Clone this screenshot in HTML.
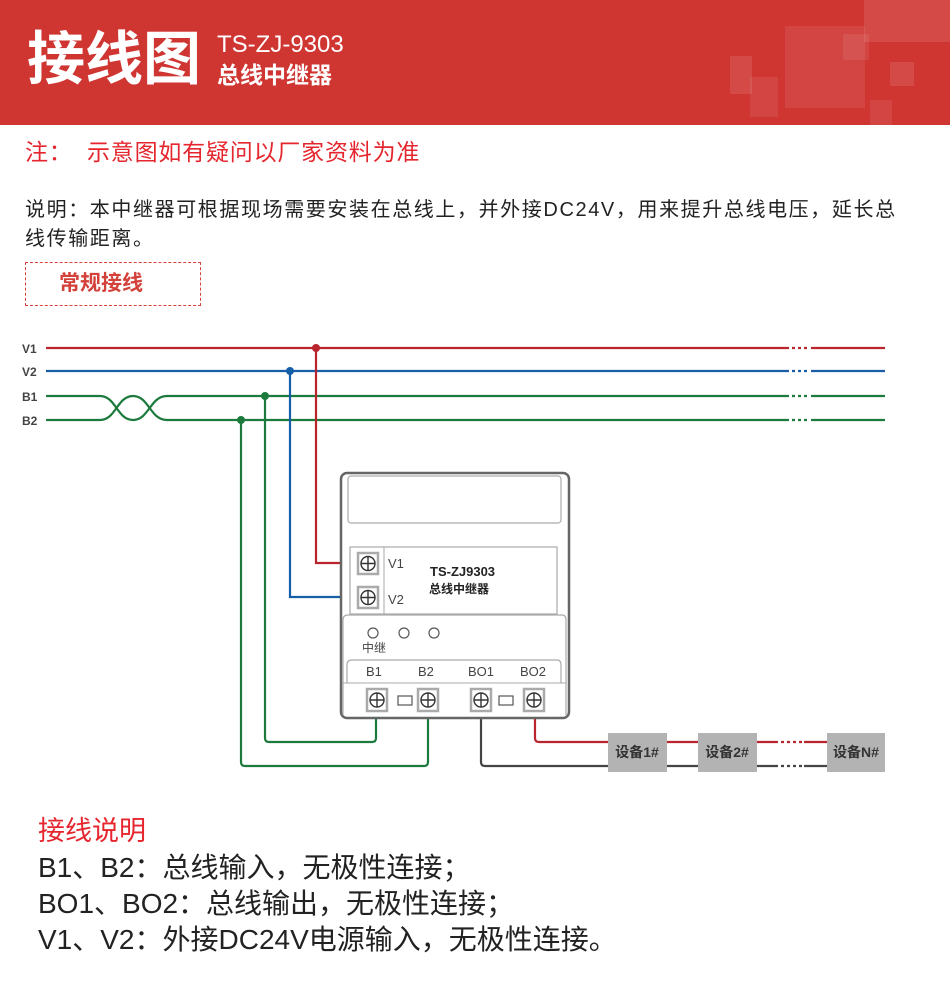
<!DOCTYPE html>
<html><head><meta charset="utf-8"><style>
body{margin:0;width:950px;height:988px;background:#fff;position:relative;overflow:hidden;font-family:"Liberation Sans","Noto Sans CJK SC",sans-serif}
.a{position:absolute;white-space:nowrap}
</style></head><body>
<div class="a" style="left:0;top:0;width:950px;height:125px;background:#cf3632;overflow:hidden">
 <div class="a" style="left:864px;top:0;width:86px;height:42px;background:rgba(255,255,255,.1)"></div>
 <div class="a" style="left:785px;top:26px;width:80px;height:82px;background:rgba(255,255,255,.08)"></div>
 <div class="a" style="left:730px;top:56px;width:22px;height:38px;background:rgba(255,255,255,.1)"></div>
 <div class="a" style="left:750px;top:77px;width:28px;height:40px;background:rgba(255,255,255,.08)"></div>
 <div class="a" style="left:890px;top:62px;width:24px;height:24px;background:rgba(255,255,255,.1)"></div>
 <div class="a" style="left:843px;top:34px;width:26px;height:26px;background:rgba(255,255,255,.08)"></div>
 <div class="a" style="left:870px;top:100px;width:22px;height:25px;background:rgba(255,255,255,.08)"></div>
</div>
<div class="a" style="left:27px;top:22px;font-size:58px;font-weight:bold;color:#fff;line-height:76px">接线图</div>
<div class="a" style="left:217px;top:31px;font-size:24px;color:#fff;line-height:28px">TS-ZJ-9303</div>
<div class="a" style="left:217px;top:61px;font-size:23px;font-weight:bold;color:#fff;line-height:28px">总线中继器</div>
<div class="a" style="left:25px;top:137px;font-size:23px;letter-spacing:0.8px;color:#e5262e;line-height:30px">注：&nbsp;&nbsp;示意图如有疑问以厂家资料为准</div>
<div class="a" style="left:25px;top:196px;font-size:20px;letter-spacing:1.6px;color:#222;line-height:29px">说明：本中继器可根据现场需要安装在总线上，并外接DC24V，用来提升总线电压，延长总<br>线传输距离。</div>
<div class="a" style="left:25px;top:262px;width:174px;height:42px;border:1px dashed #d9413a"></div>
<div class="a" style="left:59px;top:269px;font-size:21px;font-weight:bold;color:#d3423a;line-height:30px">常规接线</div>
<svg class="a" style="left:0;top:0" width="950" height="988">
<g fill="none" stroke-width="2.2">
<path d="M46 348H885" stroke="#b8252f"/>
<path d="M46 371H885" stroke="#175ea8"/>
<path d="M46 396H100C116 396 117 420 133 420C149 420 150 396 167 396H885" stroke="#1c7a3c"/>
<path d="M46 420H100C116 420 117 396 133 396C149 396 150 420 167 420H885" stroke="#1c7a3c"/>
<path d="M316 348V563H350" stroke="#b8252f"/>
<path d="M290 371V597H350" stroke="#175ea8"/>
<path d="M265 396V738Q265 742 269 742H372Q376 742 376 738V714" stroke="#1c7a3c"/>
<path d="M241 420V762Q241 766 245 766H424Q428 766 428 762V714" stroke="#1c7a3c"/>
<path d="M481 714V762Q481 766 485 766H885" stroke="#444"/>
<path d="M535 714V738Q535 742 539 742H885" stroke="#b8252f"/>
</g>
<g fill="#fff"><rect x="789" y="340" width="22" height="90"/><rect x="778" y="736" width="26" height="36"/></g>
<g stroke-width="2.2" stroke-dasharray="3 3" fill="none">
<path d="M792 348H810" stroke="#b8252f"/><path d="M792 371H810" stroke="#175ea8"/>
<path d="M792 396H810" stroke="#1c7a3c"/><path d="M792 420H810" stroke="#1c7a3c"/>
<path d="M781 742H802" stroke="#b8252f"/><path d="M781 766H802" stroke="#444"/>
</g>
<circle cx="316" cy="348" r="4" fill="#b8252f"/>
<circle cx="290" cy="371" r="4" fill="#175ea8"/>
<circle cx="265" cy="396" r="4" fill="#1c7a3c"/>
<circle cx="241" cy="420" r="4" fill="#1c7a3c"/>
<g fill="#b3b3b3"><rect x="608" y="733" width="59" height="39"/><rect x="698" y="733" width="59" height="39"/><rect x="827" y="733" width="58" height="39"/></g>
<g font-size="14" fill="#333" font-weight="bold" text-anchor="middle"><text x="637" y="757">设备1#</text><text x="727" y="757">设备2#</text><text x="856" y="757">设备N#</text></g>
<rect x="341" y="473" width="228" height="245" rx="6" fill="#fff" stroke="#666" stroke-width="2.5"/>
<rect x="348" y="476" width="213" height="47" rx="3" fill="#fff" stroke="#aaa" stroke-width="1.2"/>
<rect x="350" y="547" width="207" height="67" fill="#fff" stroke="#aaa" stroke-width="1.2"/>
<line x1="384" y1="547" x2="384" y2="614" stroke="#aaa"/>
<path d="M343 715V620Q343 615 348 615H562Q566 615 566 620V715" fill="none" stroke="#aaa" stroke-width="1.2"/>
<path d="M347 683V665Q347 660 352 660H557Q561 660 561 665V683" fill="none" stroke="#aaa" stroke-width="1.2"/>
<line x1="343" y1="683" x2="566" y2="683" stroke="#aaa"/>
<g fill="#fff" stroke="#555" stroke-width="1.2">
<circle cx="373" cy="633" r="5"/><circle cx="404" cy="633" r="5"/><circle cx="434" cy="633" r="5"/>
<rect x="398" y="696" width="14" height="9"/><rect x="499" y="696" width="14" height="9"/>
</g>
<g fill="#fff" stroke="#aaa" stroke-width="2.5">
<rect x="358" y="553" width="20" height="21"/><rect x="358" y="587" width="20" height="21"/>
<rect x="367" y="689" width="20" height="22"/><rect x="418" y="689" width="20" height="22"/>
<rect x="471" y="689" width="20" height="22"/><rect x="524" y="689" width="20" height="22"/>
</g>
<g fill="none" stroke="#333" stroke-width="1.4">
<circle cx="368" cy="563.5" r="7"/><path d="M361 563.5H375M368 556.5V570.5"/>
<circle cx="368" cy="597.5" r="7"/><path d="M361 597.5H375M368 590.5V604.5"/>
<circle cx="377" cy="700" r="7"/><path d="M370 700H384M377 693V707"/>
<circle cx="428" cy="700" r="7"/><path d="M421 700H435M428 693V707"/>
<circle cx="481" cy="700" r="7"/><path d="M474 700H488M481 693V707"/>
<circle cx="534" cy="700" r="7"/><path d="M527 700H541M534 693V707"/>
</g>
<g font-size="13" fill="#444">
<text x="388" y="568">V1</text><text x="388" y="604">V2</text>
<text x="362" y="652" font-size="12">中继</text>
<text x="366" y="676">B1</text><text x="418" y="676">B2</text><text x="468" y="676">BO1</text><text x="520" y="676">BO2</text>
</g>
<g font-size="13" fill="#222" font-weight="bold"><text x="430" y="576">TS-ZJ9303</text><text x="429" y="593" font-size="12">总线中继器</text></g>
<g font-size="12" fill="#444" font-weight="bold"><text x="22" y="353">V1</text><text x="22" y="376">V2</text><text x="22" y="401">B1</text><text x="22" y="425">B2</text></g>
</svg>
<div class="a" style="left:38px;top:814px;font-size:27px;color:#e5262e;line-height:34px">接线说明</div>
<div class="a" style="left:38px;top:850px;font-size:28px;color:#222;line-height:36px">B1、B2：总线输入，无极性连接；<br>BO1、BO2：总线输出，无极性连接；<br>V1、V2：外接DC24V电源输入，无极性连接。</div>
</body></html>
